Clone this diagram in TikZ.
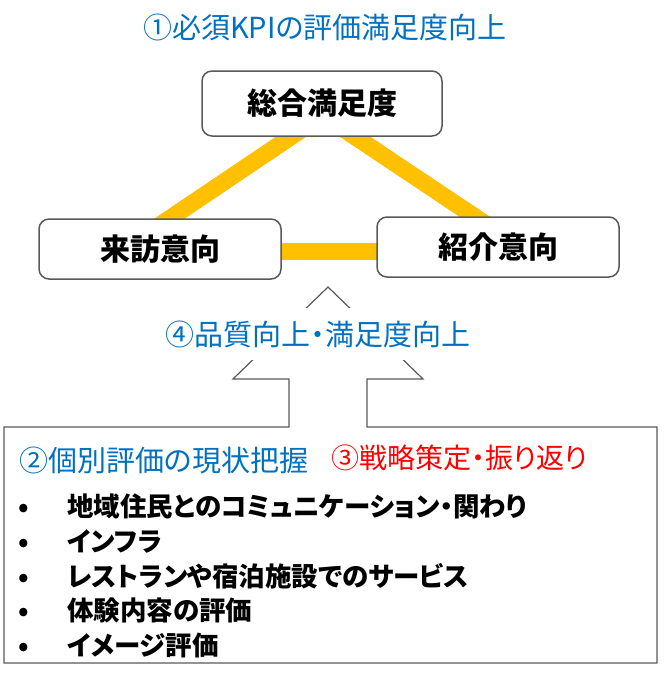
\documentclass[tikz,border=0pt]{standalone}
\usepackage{fontspec}
\setmainfont{Noto Sans CJK JP}[CharacterWidth=AlternateProportional]
\usetikzlibrary{calc, backgrounds}
\definecolor{kpiblue}{HTML}{0070C0}
\definecolor{kpired}{HTML}{FF0000}
\definecolor{kpiyellow}{HTML}{FFC000}
\definecolor{kpigray}{HTML}{595959}

\begin{document}
\begin{tikzpicture}[x=1pt, y=-1pt,
    kpibox/.style={draw=kpigray, line width=1.5pt, rounded corners=10pt, fill=white, minimum width=242pt, minimum height=60pt, font=\fontsize{30}{34}\selectfont\bfseries},
    band/.style={draw=kpiyellow, line width=17pt, shorten <=-20pt, shorten >=-20pt},
    steptext/.style={font=\fontsize{29}{32}\selectfont, inner sep=0pt},
    itemtext/.style={anchor=west, font=\fontsize{26.5}{30}\selectfont\bfseries, inner sep=0pt}]
    \useasboundingbox (0,0) rectangle (670,680);

    % title line
    \node[steptext, text=kpiblue] (title) at (325,27) {①必須KPIの評価満足度向上};

    % the three KPI boxes
    \node[kpibox, minimum width=240pt, minimum height=65pt] (total) at (322,103.5) {総合満足度};
    \node[kpibox] (visit) at (160,249) {来訪意向};
    \node[kpibox] (refer) at (498,247) {紹介意向};

    % yellow links, behind the boxes
    \begin{scope}[on background layer]
        \draw[band] ($(total.south)+(-31,0)$) -- ($(visit.north)+(10,0)$);
        \draw[band] ($(total.south)+(33,0)$) -- ($(refer.north)+(-24,0)$);
        \draw[band] ($(visit.east)+(0,2.5)$) -- ($(refer.west)+(0,4.5)$);
    \end{scope}

    % list box with the up arrow on top
    \draw[draw=kpigray, line width=1.2pt] (4,427) -- (289,427) -- (289,379) -- (233,379) -- (328,287)
        -- (423,379) -- (367,379) -- (367,427) -- (657,427) -- (657,663) -- (4,663) -- cycle;

    % label over the arrow head
    \node[steptext, text=kpiblue, fill=white, inner sep=0pt, minimum height=52pt] (improve) at (318,334) {④品質向上・満足度向上};

    % headings inside the box
    \node[steptext, text=kpiblue, anchor=west] (current) at (19,460) {②個別評価の現状把握};
    \node[steptext, text=kpired, anchor=west, font=\fontsize{28}{32}\selectfont] (strategy) at (331,458) {③戦略策定・振り返り};

    % bullet list
    \node[itemtext] (item1) at (18,506) {\makebox[49pt][l]{•}地域住民とのコミュニケーション・関わり};
    \node[itemtext] (item2) at (18,541) {\makebox[49pt][l]{•}インフラ};
    \node[itemtext] (item3) at (18,576) {\makebox[49pt][l]{•}レストランや宿泊施設でのサービス};
    \node[itemtext] (item4) at (18,610) {\makebox[49pt][l]{•}体験内容の評価};
    \node[itemtext] (item5) at (18,645) {\makebox[49pt][l]{•}イメージ評価};
\end{tikzpicture}
\end{document}
